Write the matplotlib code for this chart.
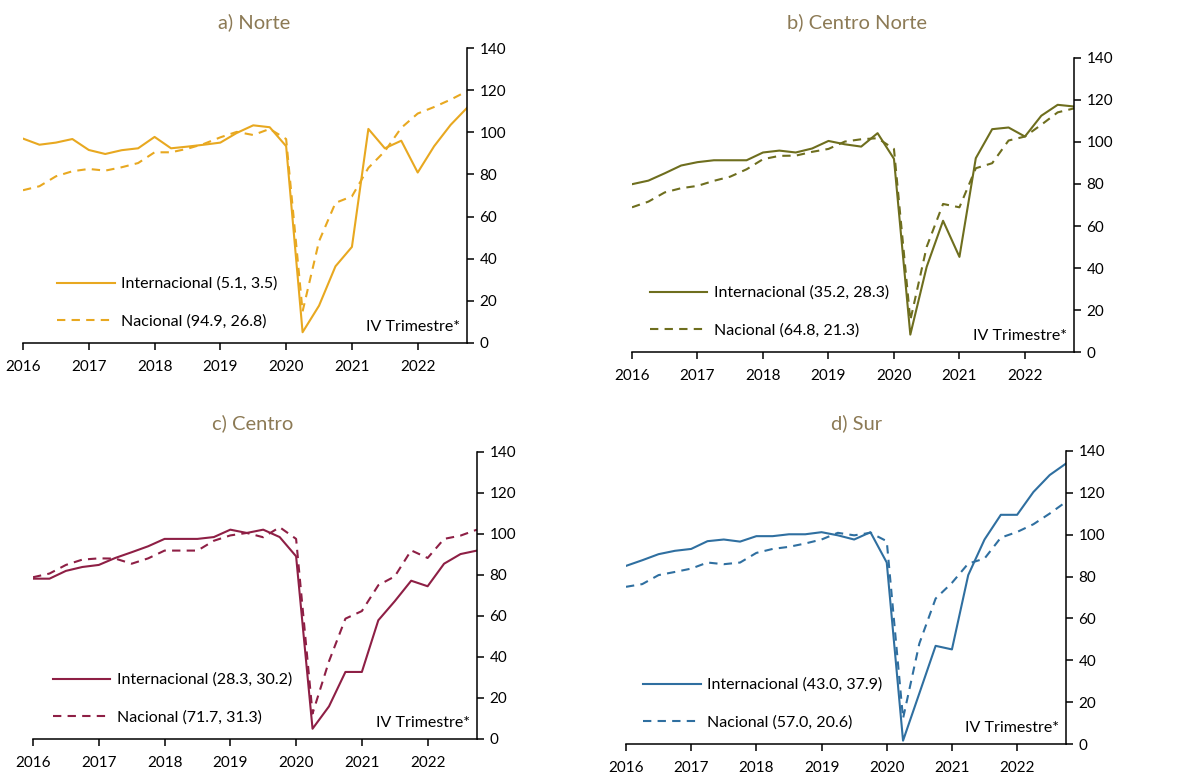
import matplotlib
matplotlib.use("Agg")
import matplotlib.pyplot as plt
import numpy as np

plt.rcParams['font.family'] = ['Lato', 'DejaVu Sans']

quarters = [2016 + i / 4 for i in range(28)]
years = [2016, 2017, 2018, 2019, 2020, 2021, 2022]
yticks = [0, 20, 40, 60, 80, 100, 120, 140]

titles = ["a) Norte", "b) Centro Norte", "c) Centro", "d) Sur"]
colors = ["#E8A820", "#6E6E1E", "#8E1F45", "#2F6FA0"]

norte_int = [97.0, 94.1, 95.1, 96.8, 91.6, 89.7, 91.5, 92.4, 97.8, 92.4, 93.2, 94.1, 95.1, 99.7,
             103.3, 102.4, 93.4, 5.1, 17.7, 36.4, 45.6, 101.6, 92.4, 96.0, 80.9, 93.4, 103.5, 111.6]
norte_nac = [72.5, 74.4, 79.1, 81.5, 82.6, 81.8, 83.4, 85.4, 90.5, 90.5, 92.2, 94.5, 97.6, 100.2,
             98.7, 101.6, 96.8, 15.0, 48.3, 66.5, 69.6, 83.1, 91.0, 102.1, 108.9, 112.0, 115.5, 119.5]

cnorte_int = [79.9, 81.6, 85.1, 88.8, 90.4, 91.3, 91.3, 91.3, 95.0, 95.9, 95.0, 96.9, 100.5, 98.9,
              97.8, 104.2, 92.0, 8.3, 40.6, 62.5, 45.3, 92.3, 106.1, 106.9, 102.6, 112.5, 117.7, 116.9]
cnorte_nac = [68.9, 71.6, 76.0, 78.0, 79.1, 81.5, 83.5, 87.0, 91.8, 93.4, 93.5, 95.3, 96.7, 100.2,
              101.3, 101.8, 96.7, 15.1, 50.1, 70.5, 68.9, 87.5, 89.9, 100.7, 102.6, 108.2, 114.1, 116.0]

centro_int = [78.2, 78.2, 82.0, 83.9, 84.9, 88.3, 91.1, 94.0, 97.6, 97.6, 97.6, 98.5, 102.1, 100.5,
              102.1, 98.5, 89.1, 5.0, 15.9, 32.7, 32.7, 57.9, 67.2, 77.2, 74.5, 85.5, 90.2, 91.9]
centro_nac = [78.9, 80.7, 84.9, 87.5, 88.1, 88.0, 85.5, 88.1, 91.9, 91.9, 91.9, 96.7, 99.3, 100.5,
              98.4, 103.3, 97.6, 12.4, 37.9, 58.7, 62.4, 75.0, 79.3, 92.0, 88.3, 97.6, 99.2, 102.1]

sur_int = [85.1, 87.8, 90.7, 92.3, 93.2, 96.9, 97.7, 96.7, 99.3, 99.3, 100.2, 100.2, 101.2, 99.7,
           97.7, 101.2, 86.7, 1.6, 24.2, 46.9, 45.2, 80.7, 97.7, 109.5, 109.5, 120.4, 128.5, 134.0]
sur_nac = [75.1, 76.4, 80.7, 82.2, 83.8, 86.7, 85.9, 86.7, 91.3, 93.2, 94.2, 95.8, 97.7, 100.9,
           99.7, 100.9, 96.9, 12.2, 48.0, 69.5, 77.0, 86.2, 88.6, 98.6, 101.3, 105.0, 110.1, 115.7]

labels_int = ["Internacional (5.1, 3.5)", "Internacional (35.2, 28.3)",
              "Internacional (28.3, 30.2)", "Internacional (43.0, 37.9)"]
labels_nac = ["Nacional (94.9, 26.8)", "Nacional (64.8, 21.3)",
              "Nacional (71.7, 31.3)", "Nacional (57.0, 20.6)"]

series_int = [norte_int, cnorte_int, centro_int, sur_int]
series_nac = [norte_nac, cnorte_nac, centro_nac, sur_nac]

note = "IV Trimestre*"
title_color = "#8C7A55"

fig = plt.figure(figsize=(11.8, 7.73), dpi=100)

positions = [
    [0.0195, 0.5563, 0.3763, 0.3816],
    [0.5356, 0.5446, 0.3746, 0.3804],
    [0.0280, 0.0440, 0.3762, 0.3713],
    [0.5305, 0.0375, 0.3729, 0.3791],
]
title_xy = [(254 / 1180, 1 - 22 / 773), (857 / 1180, 1 - 22 / 773),
            (253 / 1180, 1 - 423 / 773), (857 / 1180, 1 - 423 / 773)]
legend_x = [0.045, 0.008, 0.012, 0.006]

for k in range(4):
    ax = fig.add_axes(positions[k])
    ax.plot(quarters, series_int[k], color=colors[k], lw=1.5, label=labels_int[k])
    ax.plot(quarters, series_nac[k], color=colors[k], lw=1.5, ls=(0, (4, 3)), label=labels_nac[k])
    ax.set_xlim(2016, 2022.75)
    ax.set_ylim(0, 140)
    ax.set_xticks(years)
    ax.set_xticklabels([str(y) for y in years])
    ax.set_yticks(yticks)
    ax.yaxis.tick_right()
    ax.spines['left'].set_visible(False)
    ax.spines['top'].set_visible(False)
    ax.spines['right'].set_linewidth(1.1)
    ax.spines['bottom'].set_linewidth(1.1)
    ax.tick_params(axis='both', direction='out', length=5, width=1.1, labelsize=11, pad=4)
    ax.tick_params(axis='x', pad=7)
    fig.text(title_xy[k][0], title_xy[k][1], titles[k], color=title_color, fontsize=14.5,
             ha='center', va='center')
    ax.legend(loc='lower left', bbox_to_anchor=(legend_x[k], 0.0), frameon=False,
              fontsize=11.5, handlelength=3.6, handletextpad=0.4, labelspacing=1.45)
    ax.text(0.985, 0.03, note, transform=ax.transAxes, ha='right', va='bottom', fontsize=11.5)

fig.savefig("out.png", dpi=100)
